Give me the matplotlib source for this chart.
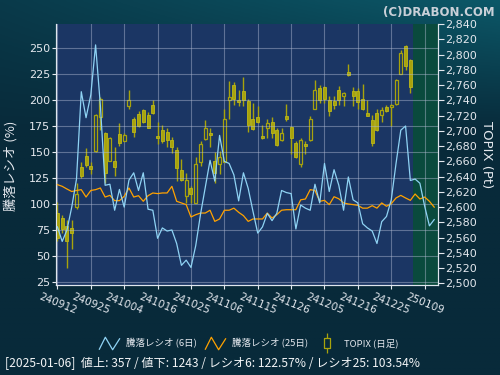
import numpy as np
import matplotlib
matplotlib.use('Agg')
import matplotlib.pyplot as plt
from matplotlib.path import Path
from matplotlib.lines import Line2D
from matplotlib.ticker import FuncFormatter

plt.rcParams['font.family'] = ['DejaVu Sans', 'Noto Sans CJK JP']
JP = ['Noto Sans CJK JP', 'DejaVu Sans']

# TOPIX daily candles (2024-09-12 .. 2025-01-06)
opens = [2592, 2585, 2575, 2573, 2600, 2652, 2667, 2654, 2673, 2718,
         2697, 2661, 2660, 2696, 2687, 2733, 2716, 2722, 2727, 2721,
         2734, 2693, 2701, 2698, 2688, 2675, 2649, 2614, 2625, 2605,
         2659, 2689, 2697, 2660, 2656, 2659, 2740, 2760, 2740, 2752,
         2739, 2716, 2718, 2693, 2703, 2711, 2701, 2688, 2719, 2705,
         2684, 2657, 2683, 2688, 2729, 2756, 2758, 2741, 2739, 2754,
         2746, 2777, 2752, 2752, 2742, 2723, 2714, 2723, 2721, 2731,
         2731, 2735, 2775, 2811, 2793]
highs = [2606, 2590, 2583, 2583, 2631, 2659, 2677, 2659, 2722, 2744,
         2698, 2692, 2679, 2710, 2697, 2753, 2718, 2726, 2729, 2724,
         2740, 2712, 2708, 2703, 2692, 2679, 2663, 2645, 2627, 2665,
         2686, 2714, 2704, 2672, 2673, 2729, 2765, 2764, 2754, 2771,
         2742, 2736, 2732, 2708, 2716, 2718, 2703, 2704, 2735, 2706,
         2686, 2691, 2686, 2720, 2767, 2760, 2759, 2746, 2745, 2759,
         2751, 2788, 2758, 2756, 2761, 2741, 2721, 2728, 2731, 2734,
         2735, 2768, 2806, 2812, 2794]
lows = [2555, 2566, 2520, 2545, 2598, 2638, 2653, 2643, 2672, 2701,
        2632, 2660, 2641, 2680, 2686, 2729, 2692, 2705, 2710, 2703,
        2722, 2683, 2684, 2679, 2671, 2634, 2634, 2605, 2605, 2605,
        2654, 2688, 2679, 2631, 2643, 2659, 2716, 2734, 2732, 2732,
        2699, 2701, 2710, 2689, 2691, 2691, 2680, 2686, 2713, 2669,
        2664, 2653, 2669, 2687, 2728, 2736, 2736, 2719, 2728, 2734,
        2732, 2772, 2732, 2729, 2727, 2719, 2680, 2700, 2711, 2725,
        2706, 2734, 2774, 2780, 2749]
closes = [2560, 2571, 2555, 2566, 2617, 2641, 2655, 2650, 2721, 2742,
          2645, 2691, 2652, 2684, 2694, 2740, 2699, 2706, 2712, 2704,
          2723, 2690, 2687, 2688, 2679, 2651, 2636, 2635, 2617, 2657,
          2683, 2703, 2694, 2645, 2665, 2716, 2744, 2742, 2738, 2740,
          2708, 2702, 2711, 2690, 2710, 2697, 2681, 2697, 2715, 2690,
          2665, 2688, 2680, 2715, 2754, 2740, 2742, 2726, 2734, 2740,
          2749, 2773, 2746, 2738, 2728, 2720, 2684, 2701, 2727, 2726,
          2734, 2767, 2802, 2785, 2758]

# advance/decline ratio (%)
ratio6 = [78, 64, 75, 97, 124, 208, 183, 205, 253, 195,
          118, 119, 94, 114, 97, 123, 130, 113, 130, 95,
          94, 67, 77, 74, 75, 62, 41, 46, 39, 60,
          90, 116, 142, 122, 166, 141, 139, 128, 103, 130,
          115, 93, 72, 78, 91, 84, 91, 113, 111, 110,
          76, 99, 96, 94, 119, 101, 139, 112, 133, 118,
          94, 126, 104, 101, 81, 77, 74, 62, 83, 88,
          104, 139, 171, 175, 122.6, 124, 120, 98, 79, 85]
ratio25 = [118.6, 117, 114.4, 112, 113, 113.8, 106.7, 113, 113.8, 115.4,
           106.7, 108.3, 103.2, 103.2, 107.4, 115.4, 106.7, 108, 102.6, 108,
           110.6, 110, 110.6, 110.6, 117, 102.6, 101, 99.4, 87.5, 89.7,
           91.3, 91.3, 94, 83.3, 85.6, 94, 94, 96, 92, 88.8,
           83.3, 85.6, 85.6, 85.6, 91.3, 86.5, 89.7, 94, 94.5, 94.5,
           94.5, 104, 104.8, 113.8, 113, 102.6, 103.5, 99.4, 107, 105,
           101, 100, 99.4, 98.7, 96, 96, 98.4, 96, 101, 97.8,
           100.3, 105.8, 108.3, 105.8, 103.5, 109.6, 104.8, 106.7, 102.6, 97]

tick_pos = [0, 7, 14, 21, 28, 35, 42, 49, 56, 63, 70, 77]
tick_labels = ['240912', '240925', '241004', '241016', '241025', '241106',
               '241115', '241126', '241205', '241216', '241225', '250109']

BG_PLOT = '#1b3664'
GREEN = '#0a4a3d'
OLIVE = '#a8a30c'
EDGE = '#bdb81a'
TXT = '#e4e8ee'
BLUE = '#8fd3f4'
ORANGE = '#ffa200'

fig = plt.figure(figsize=(5, 3.75), dpi=100)

# background gradient
bg = fig.add_axes([0, 0, 1, 1], zorder=-10)
yy, xx = np.mgrid[0:1:200j, 0:1:200j]
t = np.clip(1 - yy / 0.35, 0, 1) * (0.35 + 0.65 * xx)
c0 = np.array([8, 42, 58]) / 255
c1 = np.array([12, 88, 104]) / 255
img = c0[None, None, :] * (1 - t[..., None]) + c1[None, None, :] * t[..., None]
bg.imshow(img, aspect='auto', extent=[0, 1, 0, 1], origin='upper')
bg.axis('off')

ax = fig.add_axes([0.112, 0.24, 0.764, 0.696])
ax2 = ax.twinx()
ax.set_facecolor(BG_PLOT)
x_c = np.arange(len(closes))
x_r = np.arange(len(ratio6))

ax.axvspan(74.6, 79.8, color=GREEN, zorder=0, lw=0)

# candles
for i in x_c:
    o, h, l, c = opens[i], highs[i], lows[i], closes[i]
    ax.vlines(i, l, h, color=OLIVE, lw=1, zorder=2)
    lo, hi = min(o, c), max(o, c)
    if c < o:
        ax.bar(i, hi - lo, bottom=lo, width=0.62, color=OLIVE,
               edgecolor=EDGE, lw=0.6, zorder=3)
    else:
        ax.bar(i, max(hi - lo, 0.8), bottom=lo, width=0.62, color=BG_PLOT,
               edgecolor=OLIVE, lw=0.9, zorder=3)

ax.set_ylim(2497.8, 2840)
ax.set_xlim(-0.3, 79.8)
ax.yaxis.tick_right()
ax.yaxis.set_label_position('right')
ax.set_yticks(np.arange(2500, 2841, 20))
ax.yaxis.set_major_formatter(FuncFormatter(lambda v, p: f'{int(v):,}'))
ax.set_xticks(tick_pos)
ax.set_xticklabels(tick_labels, rotation=-22, ha='center')
ax.grid(axis='x', color='#b4bcd4', alpha=0.45, lw=0.8)
ax.tick_params(axis='y', colors=TXT, labelsize=8, length=4, width=0.8, pad=1)
ax.tick_params(axis='x', colors=TXT, labelsize=7.6, length=3, width=0.8, pad=2)
ax.set_ylabel('TOPIX (Pt)', color=TXT, fontsize=9.5, rotation=-90, labelpad=12)

# ratio lines on the twin axis, ticks on the left
ax2.yaxis.tick_left()
ax2.yaxis.set_label_position('left')
ax2.plot(x_r, ratio25, color=ORANGE, lw=0.9, zorder=4)
ax2.plot(x_r, ratio6, color=BLUE, lw=0.9, zorder=5)
ax2.set_ylim(22.1, 273.1)
ax2.set_yticks(np.arange(25, 251, 25))
ax2.grid(axis='y', color='#b4bcd4', alpha=0.45, lw=0.8)
ax2.tick_params(axis='y', colors=TXT, labelsize=8, length=3, width=0.8, pad=1)
ax2.set_ylabel('騰落レシオ (%)', color=TXT, fontsize=9.5, family=JP)
ax2.yaxis.set_label_coords(-0.102, 0.455)

for a in (ax, ax2):
    for s in a.spines.values():
        s.set_color('#dfe6ee')
        s.set_linewidth(0.8)
    a.spines['top'].set_visible(False)

# legend with small drawn icons
zig = Path([(-1, -0.6), (-0.4, 0.6), (0.3, -0.6), (1, 0.5)],
           [Path.MOVETO, Path.LINETO, Path.LINETO, Path.LINETO])
cnd = Path([(0, 1), (0, 0.5), (-0.3, 0.5), (0.3, 0.5), (0.3, -0.5),
            (-0.3, -0.5), (-0.3, 0.5), (0, -0.5), (0, -1)],
           [Path.MOVETO, Path.LINETO, Path.MOVETO, Path.LINETO, Path.LINETO,
            Path.LINETO, Path.LINETO, Path.MOVETO, Path.LINETO])
handles = [
    Line2D([], [], ls='none', marker=zig, markersize=15, mfc='none',
           mec=BLUE, mew=0.9),
    Line2D([], [], ls='none', marker=zig, markersize=15, mfc='none',
           mec=ORANGE, mew=0.9),
    Line2D([], [], ls='none', marker=cnd, markersize=15, mfc='none',
           mec=OLIVE, mew=0.9),
]
labels = ['騰落レシオ (6日)', '騰落レシオ (25日)', 'TOPIX (日足)']
leg = fig.legend(handles, labels, loc='center', bbox_to_anchor=(0.5, 0.085),
                 ncol=3, frameon=False, handlelength=1.6, columnspacing=1.2,
                 handletextpad=1.0, prop={'family': JP, 'size': 6.8})
for tx in leg.get_texts():
    tx.set_color(TXT)

fig.text(0.99, 0.985, '(C)DRABON.COM', ha='right', va='top', color='#c9d0d8',
         fontsize=8.5, fontweight='bold')
fig.text(0.01, 1 - 364 / 375,
         '[2025-01-06]  値上: 357 / 値下: 1243 / レシオ6: 122.57% / レシオ25: 103.54%',
         ha='left', va='center', color='#f2f4f6', fontsize=8.7, family=JP)

fig.savefig('out.png', dpi=100)
